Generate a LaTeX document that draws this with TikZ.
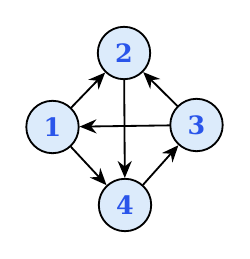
\documentclass[tikz,border=0pt]{standalone}
\usepackage{fontspec}
\setmainfont{DejaVu Serif}
\usetikzlibrary{arrows.meta}
\definecolor{gvfill}{HTML}{DCEBFB}
\definecolor{gvtext}{HTML}{2A55EA}
\tikzset{
  gvnode/.style={
    circle, draw=black, fill=gvfill, line width=1.3pt,
    minimum size=1.31cm, inner sep=0pt,
    font=\fontsize{18}{18}\selectfont\bfseries, text=gvtext},
  gvarrow/.style={-{Stealth[length=12pt, width=10pt]}, draw=black, line width=1.3pt},
  every picture/.style={line cap=round},
}
\begin{document}
\begin{tikzpicture}[x=0.025cm, y=0.025cm]

% Frame.
\useasboundingbox (0, 0) rectangle (250, 259);

% Vertices.
\node[gvnode] (n1) at (52.5, 132) {1};
\node[gvnode] (n2) at (124, 206) {2};
\node[gvnode] (n3) at (196.5, 134) {3};
\node[gvnode] (n4) at (125, 54) {4};

% Edges.
\draw[gvarrow] (n1) -- (n2);
\draw[gvarrow] (n1) -- (n4);
\draw[gvarrow] (n2) -- (n4);
\draw[gvarrow] (n3) -- (n2);
\draw[gvarrow] (n3) -- (n1);
\draw[gvarrow] (n4) -- (n3);

\end{tikzpicture}
\end{document}
